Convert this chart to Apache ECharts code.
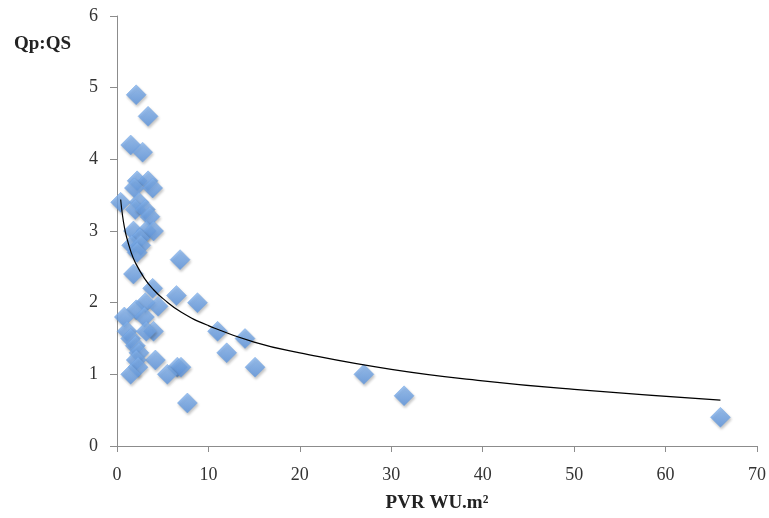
<!DOCTYPE html>
<html>
<head>
<meta charset="utf-8">
<script src="https://cdn.jsdelivr.net/npm/echarts@6/dist/echarts.min.js"></script>
<style>html,body{margin:0;padding:0;background:#fff}#c{width:769px;height:518px}</style>
</head>
<body>
<div id="c"></div>
<script>
var pvr = [2.1,3.4,1.5,2.8,2.2,3.4,1.9,3.9,0.4,2.4,2.0,3.1,3.6,1.8,3.2,4.0,2.5,1.6,2.6,2.2,6.9,1.8,3.9,6.5,8.8,3.1,2.1,4.5,0.8,3.0,1.1,11.0,4.0,3.2,1.5,14.0,2.0,2.4,12.0,4.2,2.1,2.3,6.6,7.0,15.1,1.5,5.5,27.0,31.4,7.7,66.0];
var qpqs = [4.9,4.6,4.2,4.1,3.7,3.7,3.6,3.6,3.4,3.4,3.3,3.3,3.2,3.0,3.0,3.0,2.9,2.8,2.8,2.7,2.6,2.4,2.2,2.1,2.0,2.0,1.9,1.95,1.8,1.8,1.6,1.6,1.6,1.6,1.5,1.5,1.4,1.3,1.3,1.2,1.2,1.1,1.1,1.1,1.1,1.0,1.0,1.0,0.7,0.6,0.4];
var trendX = [0.4,0.6,0.8,1,1.5,2,3,4,5,7,10,15,20,30,40,50,66];
var trendY = [3.44,3.22,3.06,2.94,2.72,2.56,2.34,2.18,2.06,1.87,1.68,1.45,1.30,1.07,0.91,0.79,0.64];

var pts = pvr.map(function(x,i){return [x, qpqs[i]];});
var tr = trendX.map(function(x,i){return [x, trendY[i]];});
var font = 'Liberation Serif';
var chart = echarts.init(document.getElementById('c'));
chart.setOption({
  animation: false,
  title: {text: 'Qp:QS', left: 9, top: 30, textStyle: {fontFamily: font, fontSize: 19, fontWeight: 'bold', color: '#222'}},
  grid: {left: 117, right: 12, top: 16, bottom: 71},
  xAxis: {
    type: 'value', min: 0, max: 70, interval: 10,
    name: 'PVR WU.m²', nameLocation: 'middle', nameGap: 48,
    nameTextStyle: {fontFamily: font, fontSize: 19, fontWeight: 'bold', color: '#222'},
    axisLine: {lineStyle: {color: '#8c8c8c'}},
    axisTick: {show: true, inside: false, length: 6, lineStyle: {color: '#8c8c8c'}},
    axisLabel: {fontFamily: font, fontSize: 18, color: '#333', margin: 20},
    splitLine: {show: false}
  },
  yAxis: {
    type: 'value', min: 0, max: 6, interval: 1,
    axisLine: {show: true, lineStyle: {color: '#8c8c8c'}},
    axisTick: {show: true, inside: false, length: 7, lineStyle: {color: '#8c8c8c'}},
    axisLabel: {fontFamily: font, fontSize: 18, color: '#333', margin: 19},
    splitLine: {show: false}
  },
  series: [
    {
      type: 'scatter', data: pts, symbol: 'diamond', symbolSize: 20,
      itemStyle: {
        color: new echarts.graphic.LinearGradient(0,0,0,1,[{offset:0,color:'#8ab8f0'},{offset:1,color:'#5a93de'}]),
        borderColor: '#6b9fe2', borderWidth: 0.5,
        shadowColor: 'rgba(0,0,0,0.3)', shadowBlur: 3, shadowOffsetX: 1, shadowOffsetY: 2
      }
    },
    {
      type: 'line', data: tr, smooth: true, showSymbol: false, symbol: 'none',
      lineStyle: {color: '#000', width: 1.2}, z: 3
    }
  ]
});
</script>
</body>
</html>
